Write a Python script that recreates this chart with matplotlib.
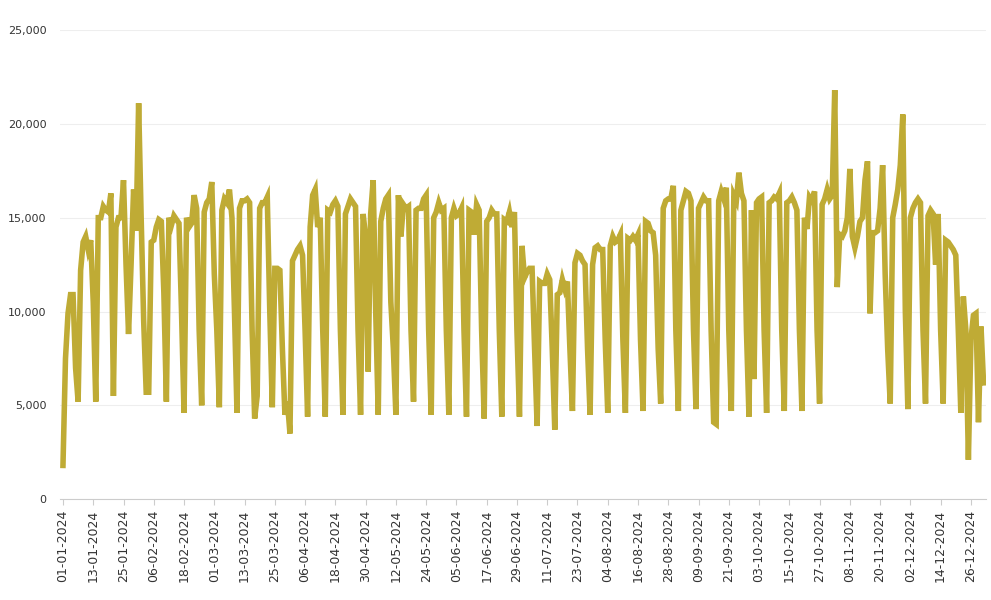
import matplotlib
matplotlib.use("Agg")
import matplotlib.pyplot as plt
import matplotlib.ticker as mt
import pandas as pd
import numpy as np

weeks = [
 [1800,7500,9900,10900,10900,7000,5200],
 [12200,13700,14000,13300,13800,10500,5200],
 [15000,15000,15600,15400,15300,16300,5500],
 [14500,15000,15000,17000,12500,8800,12500],
 [16500,14300,21100,15000,9500,5700,5700],
 [13700,13800,14500,14900,14800,11000,5200],
 [15000,14600,15100,14900,14700,10000,4600],
 [15000,14500,14700,16200,15500,9000,5000],
 [15300,15800,16000,16900,12000,9000,4900],
 [15400,16000,15800,16500,15000,10000,4600],
 [15500,15900,15900,16000,15800,9000,4300],
 [5500,15500,15800,15800,16100,10000,4900],
 [12300,12300,12200,8000,4500,5200,3500],
 [12700,13000,13300,13500,13000,9000,4400],
 [14500,16200,16500,14500,15000,9000,4400],
 [15400,15300,15700,15900,15600,9000,4500],
 [15200,15600,16000,15800,15600,9000,4500],
 [15200,14000,6800,15200,17000,10000,4500],
 [14800,15500,16000,16200,10500,8000,4500],
 [16200,14000,15700,15500,15600,9000,5200],
 [15400,15500,15500,16000,16200,9000,4500],
 [15000,15300,15800,15400,15500,9000,4500],
 [15000,15500,15100,15200,15500,9000,4400],
 [15400,15300,14100,15700,15400,9000,4300],
 [14800,15000,15400,15200,15200,9000,4400],
 [14900,14800,15300,14500,15300,9000,4400],
 [13500,11800,12100,12300,12300,8000,3900],
 [11600,11500,11500,12000,11700,8000,3700],
 [10900,11000,11700,11200,11600,8000,4700],
 [12600,13100,13000,12700,12500,8000,4500],
 [12500,13400,13500,13300,13300,8500,4600],
 [13500,14000,13700,13800,14100,8500,4600],
 [13900,13800,14000,13800,14100,8500,4700],
 [14800,14700,14300,14200,13000,8000,5100],
 [15500,15900,16000,16000,16700,9000,4700],
 [15400,15900,16400,16300,15900,9000,4800],
 [15500,15800,16100,15900,15900,9000,4100],
 [4000,15900,16400,16000,16600,9000,4700],
 [16200,15900,17400,16300,15900,9000,4400],
 [15400,6400,15800,16000,16100,9000,4600],
 [15800,15900,16100,16000,16300,9000,4700],
 [15800,15900,16100,15800,15400,9000,4700],
 [15000,14400,16100,15900,16400,9000,5100],
 [15700,16000,16500,16000,16200,21800,11300],
 [14100,14000,14300,15000,17600,14000,13400],
 [14000,14800,15000,17000,18000,9900,14200],
 [14200,14300,15500,17800,12000,8000,5100],
 [15000,15700,16500,17800,20500,10000,4800],
 [15000,15500,15800,16000,15800,9000,5100],
 [15100,15400,15200,12500,15200,9000,5100],
 [13800,13700,13500,13300,13000,9000,4600],
 [10800,9000,2100,8500,9800,9900,4100],
]
last_days = [9200, 6200]
values = [v for w in weeks for v in w] + last_days
dates = pd.date_range("2024-01-01", periods=len(values), freq="D")

fig = plt.figure(figsize=(9.91, 6), dpi=100)
ax = fig.add_axes([0.061, 0.168, 0.934, 0.782])
ax.plot(dates, values, color="#BFAB35", lw=4, solid_joinstyle="miter")
ax.set_ylim(0, 25000)
ax.set_xlim(dates[0] - pd.Timedelta(days=1), dates[-1] + pd.Timedelta(days=1))
ax.yaxis.set_major_locator(mt.MultipleLocator(5000))
ax.yaxis.set_major_formatter(mt.FuncFormatter(lambda v, p: f"{int(v):,}"))
ticks = dates[::12]
ax.set_xticks(ticks)
ax.set_xticklabels([d.strftime("%d-%m-%Y") for d in ticks], rotation=90, fontsize=9, color="#333333")
ax.tick_params(axis="y", labelsize=8, colors="#333333", length=0, pad=10)
ax.tick_params(axis="x", length=4, color="#cccccc")
ax.grid(axis="y", color="#eeeeee", lw=0.8)
ax.set_axisbelow(True)
for s in ["top", "right", "left"]:
    ax.spines[s].set_visible(False)
ax.spines["bottom"].set_color("#cccccc")
fig.savefig("out.png", dpi=100)
